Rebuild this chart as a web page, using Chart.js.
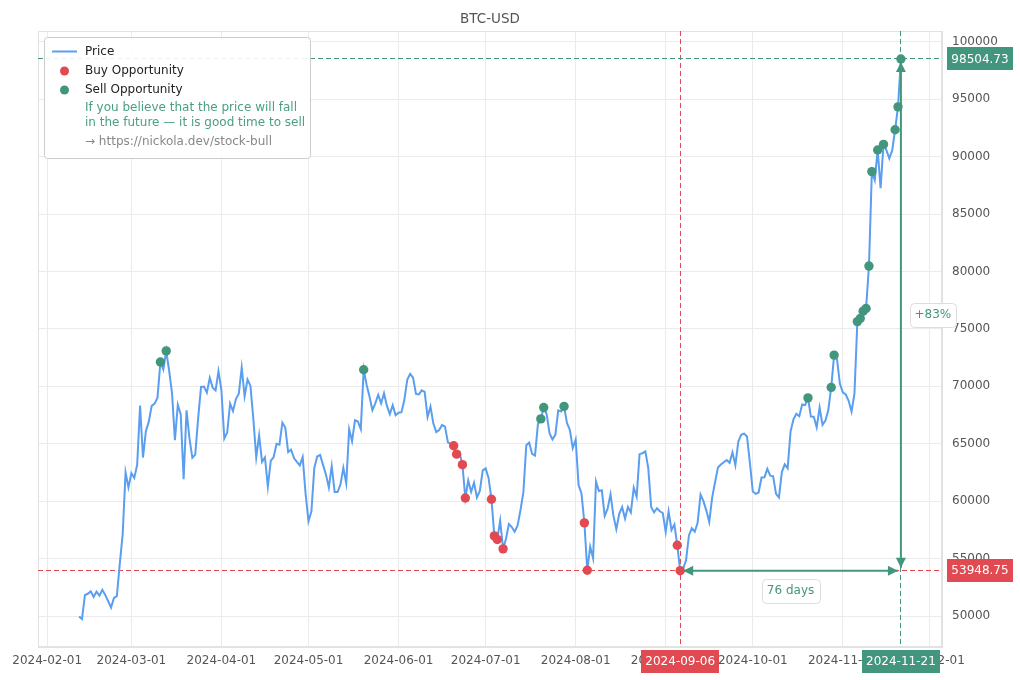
<!DOCTYPE html>
<html>
<head>
<meta charset="utf-8">
<script src="https://cdn.jsdelivr.net/npm/chart.js@4.4.1/dist/chart.umd.min.js"></script>
<style>
html,body{margin:0;padding:0;background:#fff;}
canvas{display:block;}
</style>
</head>
<body>
<canvas id="c" width="1020" height="680"></canvas>
<script>
// ---- data ----
const title = 'BTC-USD';
const startDate = '2024-02-12';
const prices = [
 49958,49742,51826,51938,52160,51663,52122,51779,52284,51839,51304,50731,51571,51733,54523,57085,62504,61198,
 62440,62029,63167,68330,63801,66106,66925,68300,68498,69019,72123,71481,73083,71396,69403,65315,68391,67548,61912,67913,65491,63778,64062,67234,69958,69987,69455,70744,69892,69645,71333,
 69702,65446,65980,68508,67837,68897,69362,71632,69139,70587,70060,67195,63821,65738,63426,63811,61276,63512,63843,64994,64926,66837,66408,64276,64482,63756,63419,63113,63841,60636,
 58254,59123,62889,63891,64031,63161,62334,61187,63049,60792,60793,61448,62901,61552,66267,65231,67051,66940,66278,71448,70136,69122,67929,68526,69265,68518,69394,68296,67578,68364,67491,
 67706,67751,68804,70567,71082,70757,69342,69305,69648,69512,67332,68242,66756,66012,66191,66639,66490,65140,64961,64828,64096,64253,63181,60277,61804,60811,61604,60320,60887,62678,
 62851,62029,60173,56977,56662,58303,55849,56705,58009,57742,57344,57899,59231,60787,64870,65097,64119,63974,66711,67164,68154,67585,65927,65372,65777,67912,67813,68255,66819,66201,64619,
 65357,61415,60680,58116,53991,56034,55027,61710,60880,60945,58719,59354,60609,58737,57560,58894,59478,58483,59493,59012,61175,60382,64095,64178,64333,62881,59504,59027,59388,59120,58970,
 57326,59113,57485,57971,56160,53948.75,54139,54841,57020,57649,57343,58127,60571,60005,59182,58192,60309,61649,62940,63192,63395,63578,63339,64262,63143,65181,65790,65888,65636,63330,
 60837,60632,60759,62068,62089,62819,62224,62160,60636,60326,62540,63207,62870,66083,67122,67612,67400,68419,68362,69001,67367,67361,66432,68161,66642,67014,67929,69907,72720,72339,70215,
 69482,69289,68741,67811,69359,75639,75904,76545,76778,80474,88701,87955,90585,87250,91066,90558,89845,90542,92343,94339,98504.73
];
const buyDates = ['2024-06-20','2024-06-21','2024-06-23','2024-06-24','2024-07-03','2024-07-04','2024-07-05','2024-07-07','2024-08-04','2024-08-05','2024-09-05','2024-09-06'];
const sellDates = ['2024-03-11','2024-03-13','2024-05-20','2024-07-20','2024-07-21','2024-07-28','2024-10-20','2024-10-28','2024-10-29','2024-11-06','2024-11-07','2024-11-08','2024-11-09','2024-11-10','2024-11-11','2024-11-13','2024-11-15','2024-11-19','2024-11-20','2024-11-21'];
const monthTicks = ['2024-02-01','2024-03-01','2024-04-01','2024-05-01','2024-06-01','2024-07-01','2024-08-01','2024-09-01','2024-10-01','2024-11-01','2024-12-01'];
const priceTicks = [50000,55000,60000,65000,70000,75000,80000,85000,90000,95000,100000];
const lowDate = '2024-09-06', lowPrice = 53948.75;
const highDate = '2024-11-21', highPrice = 98504.73;
const daysLabel = '76 days';
const pctLabel = '+83%';
const legendNote = ['If you believe that the price will fall', 'in the future \u2014 it is good time to sell'];
const legendLink = '\u2192 https://nickola.dev/stock-bull';

// ---- styles ----
const BLUE = '#5a9ef0', GREEN = '#43967e', RED = '#e04a50', TXT = '#555555', GRID = '#ebebeb';
const FONT = '"DejaVu Sans", sans-serif';

const DAY = 86400000;
const ts = d => Date.parse(d + 'T00:00:00Z');
const t0 = ts(startDate);
const priceAt = d => prices[Math.round((ts(d) - t0) / DAY)];
const pricePts = prices.map((p, i) => ({x: t0 + i * DAY, y: p}));
const buyPts = buyDates.map(d => ({x: ts(d), y: priceAt(d)}));
const sellPts = sellDates.map(d => ({x: ts(d), y: priceAt(d)}));
const xFirst = t0, xLast = t0 + (prices.length - 1) * DAY;
const xSpan = xLast - xFirst;
const pMin = Math.min(...prices), pMax = Math.max(...prices);
const pSpan = pMax - pMin;

function roundRect(ctx, x, y, w, h, r) {
  ctx.beginPath();
  ctx.moveTo(x + r, y);
  ctx.lineTo(x + w - r, y); ctx.quadraticCurveTo(x + w, y, x + w, y + r);
  ctx.lineTo(x + w, y + h - r); ctx.quadraticCurveTo(x + w, y + h, x + w - r, y + h);
  ctx.lineTo(x + r, y + h); ctx.quadraticCurveTo(x, y + h, x, y + h - r);
  ctx.lineTo(x, y + r); ctx.quadraticCurveTo(x, y, x + r, y);
  ctx.closePath();
}
function head(ctx, tx, ty, dx, dy, len, half) {
  const bx = tx - dx * len, by = ty - dy * len;
  ctx.beginPath();
  ctx.moveTo(tx, ty);
  ctx.lineTo(bx - dy * half, by + dx * half);
  ctx.lineTo(bx + dy * half, by - dx * half);
  ctx.closePath();
  ctx.fill();
}
const crisp = v => Math.floor(v) + 0.5;

const annot = {
  id: 'annot',
  beforeDatasetsDraw(chart) {
    const {ctx, chartArea: a, scales: {x, y}} = chart;
    ctx.save();
    ctx.strokeStyle = '#e2e2e2'; ctx.lineWidth = 1;
    ctx.strokeRect(a.left + 0.5, a.top + 0.5, a.right - a.left - 1, a.bottom - a.top - 1);
    ctx.lineWidth = 1;
    ctx.setLineDash([5, 3]);
    const yl = crisp(y.getPixelForValue(lowPrice)), yh = crisp(y.getPixelForValue(highPrice));
    const xl = crisp(x.getPixelForValue(ts(lowDate))), xh = crisp(x.getPixelForValue(ts(highDate)));
    ctx.strokeStyle = RED;
    ctx.beginPath(); ctx.moveTo(a.left, yl); ctx.lineTo(a.right, yl); ctx.stroke();
    ctx.beginPath(); ctx.moveTo(xl, a.top); ctx.lineTo(xl, a.bottom); ctx.stroke();
    ctx.strokeStyle = GREEN;
    ctx.beginPath(); ctx.moveTo(a.left, yh); ctx.lineTo(a.right, yh); ctx.stroke();
    ctx.beginPath(); ctx.moveTo(xh, a.top); ctx.lineTo(xh, a.bottom); ctx.stroke();
    ctx.restore();
  },
  afterDraw(chart) {
    const {ctx, chartArea: a, scales: {x, y}} = chart;
    const yl = y.getPixelForValue(lowPrice), yh = y.getPixelForValue(highPrice);
    const xl = x.getPixelForValue(ts(lowDate)), xh = x.getPixelForValue(ts(highDate));
    ctx.save();
    // arrows
    ctx.strokeStyle = GREEN; ctx.fillStyle = GREEN; ctx.lineWidth = 2; ctx.setLineDash([]);
    ctx.beginPath(); ctx.moveTo(xl + 3, yl); ctx.lineTo(xh - 3, yl); ctx.stroke();
    head(ctx, xl + 3, yl, -1, 0, 10, 5);
    head(ctx, xh - 3, yl, 1, 0, 10, 5);
    ctx.beginPath(); ctx.moveTo(xh, yl - 3); ctx.lineTo(xh, yh + 3); ctx.stroke();
    head(ctx, xh, yh + 3, 0, -1, 10, 5);
    head(ctx, xh, yl - 3, 0, 1, 10, 5);

    ctx.font = '12px ' + FONT;
    ctx.textAlign = 'center'; ctx.textBaseline = 'middle';
    // info boxes
    const infoBox = (cx, cy, w, text) => {
      roundRect(ctx, Math.round(cx - w / 2) + 0.5, Math.round(cy - 12) + 0.5, w, 24, 4);
      ctx.fillStyle = '#ffffff'; ctx.fill();
      ctx.strokeStyle = '#dddddd'; ctx.lineWidth = 1; ctx.stroke();
      ctx.fillStyle = GREEN; ctx.fillText(text, cx, cy + 0.5);
    };
    infoBox((xl + xh) / 2, yl + 20, 58, daysLabel);
    infoBox(xh + 32, (yl + yh) / 2, 46, pctLabel);

    // value boxes on axes
    const tag = (cx, cy, w, color, text) => {
      ctx.fillStyle = color; ctx.fillRect(Math.round(cx - w / 2), Math.round(cy - 11.5), w, 23);
      ctx.fillStyle = '#ffffff'; ctx.fillText(text, cx, cy + 0.5);
    };
    ctx.font = '12px ' + FONT;
    tag(a.right + 38, yh, 66, GREEN, highPrice.toFixed(2));
    tag(a.right + 38, yl, 66, RED, lowPrice.toFixed(2));
    tag(xl, a.bottom + 14, 78, RED, lowDate);
    tag(xh, a.bottom + 14, 78, GREEN, highDate);

    // title
    ctx.fillStyle = TXT; ctx.font = '13.5px ' + FONT;
    ctx.fillText(title, (a.left + a.right) / 2, 19);

    // legend
    const lx = 44, ly = 37;
    roundRect(ctx, lx + 0.5, ly + 0.5, 266, 121, 3);
    ctx.fillStyle = 'rgba(255,255,255,0.9)'; ctx.fill();
    ctx.strokeStyle = '#cccccc'; ctx.lineWidth = 1; ctx.stroke();
    ctx.textAlign = 'left'; ctx.font = '12px ' + FONT;
    ctx.strokeStyle = BLUE; ctx.lineWidth = 2;
    ctx.beginPath(); ctx.moveTo(52, 51.5); ctx.lineTo(77, 51.5); ctx.stroke();
    ctx.fillStyle = RED; ctx.beginPath(); ctx.arc(64.5, 71, 4.5, 0, Math.PI * 2); ctx.fill();
    ctx.fillStyle = GREEN; ctx.beginPath(); ctx.arc(64.5, 90, 4.5, 0, Math.PI * 2); ctx.fill();
    ctx.fillStyle = '#222222';
    ctx.fillText('Price', 85, 52);
    ctx.fillText('Buy Opportunity', 85, 71);
    ctx.fillText('Sell Opportunity', 85, 90);
    ctx.fillStyle = '#4a9e84';
    ctx.fillText(legendNote[0], 85, 108);
    ctx.fillText(legendNote[1], 85, 123);
    ctx.fillStyle = '#888888';
    ctx.fillText(legendLink, 85, 142);
    ctx.restore();
  }
};

new Chart(document.getElementById('c'), {
  type: 'line',
  data: {
    datasets: [
      {label: 'Price', data: pricePts, borderColor: BLUE, borderWidth: 2, pointRadius: 0, tension: 0, fill: false, order: 3},
      {label: 'Buy Opportunity', data: buyPts, showLine: false, pointRadius: 4.7, pointBackgroundColor: RED, pointBorderWidth: 0, backgroundColor: RED, borderColor: RED, order: 2},
      {label: 'Sell Opportunity', data: sellPts, showLine: false, pointRadius: 4.7, pointBackgroundColor: GREEN, pointBorderWidth: 0, backgroundColor: GREEN, borderColor: GREEN, order: 1}
    ]
  },
  options: {
    responsive: false,
    animation: false,
    layout: {padding: {left: 38, top: 31, right: 0, bottom: 0}},
    plugins: {legend: {display: false}, title: {display: false}, tooltip: {enabled: false}},
    scales: {
      x: {
        type: 'linear',
        min: xFirst - 0.05 * xSpan,
        max: xLast + 0.05 * xSpan,
        afterBuildTicks: s => { s.ticks = monthTicks.map(d => ({value: ts(d)})); },
        afterFit: s => { s.height = 33; },
        grid: {color: GRID, drawTicks: false},
        border: {color: '#e2e2e2'},
        ticks: {
          autoSkip: false, maxRotation: 0, padding: 7, color: TXT,
          font: {family: FONT, size: 12},
          callback: v => new Date(v).toISOString().slice(0, 10)
        }
      },
      y: {
        type: 'linear',
        position: 'right',
        min: pMin - 0.05 * pSpan,
        max: pMax + 0.05 * pSpan,
        afterBuildTicks: s => { s.ticks = priceTicks.map(v => ({value: v})); },
        afterFit: s => { s.width = 78; },
        grid: {color: GRID, drawTicks: false},
        border: {color: '#e2e2e2'},
        ticks: {padding: 10, color: TXT, font: {family: FONT, size: 12}, callback: v => String(v)}
      }
    }
  },
  plugins: [annot]
});
</script>
</body>
</html>
